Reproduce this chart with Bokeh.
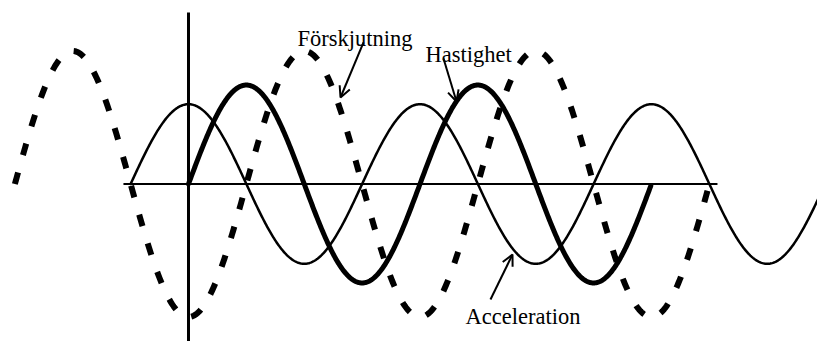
import numpy as np
from bokeh.plotting import figure
from bokeh.models import Range1d, Arrow, OpenHead, ColumnDataSource
from bokeh.core.properties import value
from bokeh.embed import file_html
from bokeh.resources import INLINE

# ---- data (time in periods, y in displacement amplitudes) ----
curve_labels = ["Förskjutning", "Hastighet", "Acceleration"]
amplitudes = [1.0, 0.744, 0.60]          # relative peak heights
phase_kind = ["-cos", "sin", "cos"]      # x = -A cos wt, v = A w sin wt, a = A w^2 cos wt
t_start = [-0.75, 0.0, -0.25]            # where each drawn curve begins (periods)
t_end = [2.262, 1.997, 2.75]             # where each drawn curve ends (periods)

axis_t = [-0.281, 2.285]                 # horizontal time axis extent
axis_y = [-1.25, 1.289]                  # vertical axis extent

label_t = [0.471, 1.024, 1.1965]
label_y = [1.094, 0.974, -0.996]
arrow_start_t = [0.756, 1.1015, 1.3045]
arrow_start_y = [1.064, 0.9436, -0.8684]
arrow_end_t = [0.6566, 1.1577, 1.3996]
arrow_end_y = [0.6504, 0.6203, -0.5301]

p = figure(width=817, height=341, output_backend="svg", toolbar_location=None,
           x_range=Range1d(-0.8121, 2.7171), y_range=Range1d(-1.1842, 1.3797),
           min_border=0, outline_line_color=None, background_fill_color="white",
           border_fill_color="white")
p.xaxis.visible = False
p.yaxis.visible = False
p.grid.visible = False

# axes of the diagram
p.line(axis_t, [0, 0], line_color="black", line_width=2)
p.line([0, 0], axis_y, line_color="black", line_width=3)

funcs = {"-cos": lambda w: -np.cos(w), "sin": np.sin, "cos": np.cos}
styles = [
    dict(line_width=6, line_dash="12 18", line_cap="butt"),
    dict(line_width=5, line_cap="round"),
    dict(line_width=2.5, line_cap="round"),
]
for i in range(3):
    t = np.linspace(t_start[i], t_end[i], 800)
    y = amplitudes[i] * funcs[phase_kind[i]](2 * np.pi * t)
    p.line(t, y, line_color="black", line_join="round", **styles[i])

src = ColumnDataSource(dict(x=label_t, y=label_y, text=curve_labels))
p.text(x="x", y="y", text="text", source=src, text_font=value("Liberation Serif"),
       text_font_size="22.5px", text_color="black", text_baseline="alphabetic",
       text_align="left")

for i in range(3):
    p.add_layout(Arrow(end=OpenHead(size=11, line_width=2, line_color="black"),
                       x_start=arrow_start_t[i], y_start=arrow_start_y[i],
                       x_end=arrow_end_t[i], y_end=arrow_end_y[i],
                       line_width=2, line_color="black"))

open("out.html", "w").write(file_html(p, INLINE))
